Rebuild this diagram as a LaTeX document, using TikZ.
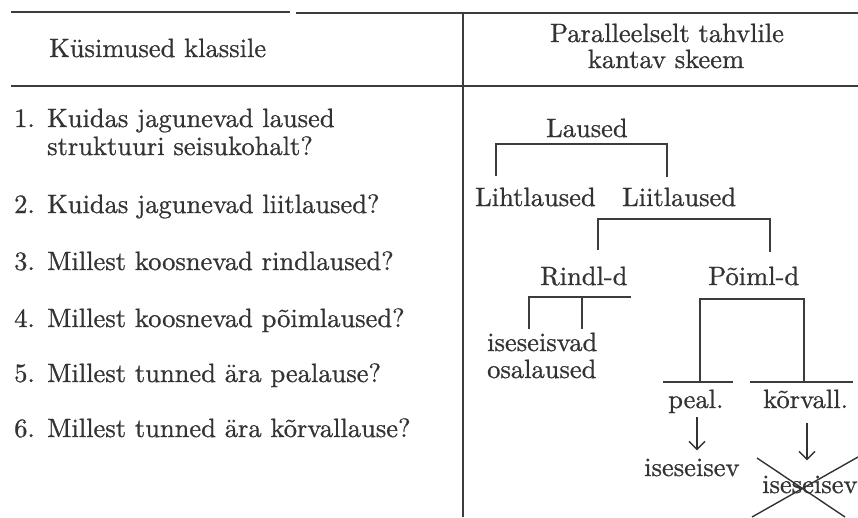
\documentclass[tikz,border=0pt]{standalone}
\usepackage{fontspec}
\setmainfont{lmroman10-regular.otf}[FakeBold=0.8]
\usetikzlibrary{arrows.meta,calc}
\definecolor{ink}{HTML}{333333}
\definecolor{rulecol}{HTML}{3C3C3C}
\begin{document}
\begin{tikzpicture}[x=1pt,y=-1pt,
  txt/.style={inner sep=0pt, anchor=base west, text=ink, font=\fontsize{26.5}{31}\selectfont},
  ctxt/.style={txt, anchor=base},
  rule/.style={draw=rulecol, line width=2pt},
  br/.style={draw=rulecol, line width=2pt, line join=miter},
  arr/.style={draw=ink, line width=1.4pt, -{Straight Barb[length=8pt,width=16pt,line width=1.4pt]}},
  strike/.style={draw=ink, line width=1.4pt}]
\useasboundingbox (0,0) rectangle (858,517);

% table rules
\coordinate (tl) at (11,12);
\coordinate (tm1) at (290,12);
\coordinate (tm2) at (296,13);
\coordinate (tr) at (858,13);
\coordinate (hl) at (11,86);
\coordinate (hr) at (858,86);
\coordinate (vt) at (463,12);
\coordinate (vb) at (463,517);
\draw[rule] (tl) -- (tm1);
\draw[rule] (tm2) -- (tr);
\draw[rule] (hl) -- (hr);
\draw[rule] (vt) -- (vb);

% header
\node[txt]  (h1) at (49,57) {Küsimused klassile};
\node[ctxt] (h2) at (667,42) {Paralleelselt tahvlile};
\node[ctxt] (h3) at (666,68) {kantav skeem};

% questions
\node[txt] (n1) at (14,127) {1.};
\node[txt] (q1) at (47,127) {Kuidas jagunevad laused};
\node[txt] (q1b) at (47,155) {struktuuri seisukohalt?};
\node[txt] (n2) at (14,213) {2.};
\node[txt] (q2) at (47,213) {Kuidas jagunevad liitlaused?};
\node[txt] (n3) at (14,270) {3.};
\node[txt] (q3) at (47,270) {Millest koosnevad rindlaused?};
\node[txt] (n4) at (14,327) {4.};
\node[txt] (q4) at (47,327) {Millest koosnevad põimlaused?};
\node[txt] (n5) at (14,382) {5.};
\node[txt] (q5) at (47,382) {Millest tunned ära pealause?};
\node[txt] (n6) at (14,437) {6.};
\node[txt] (q6) at (47,437) {Millest tunned ära kõrvallause?};

% scheme
\node[txt] (laused) at (546,137) {Laused};
\node[txt] (liht) at (475,206) {Lihtlaused};
\node[txt] (liit) at (622,206) {Liitlaused};
\node[txt] (rindl) at (540,285) {Rindl-d};
\node[txt] (poiml) at (708,285) {Põiml-d};
\node[txt] (isv1) at (487,351) {iseseisvad};
\node[txt] (isv2) at (487,378) {osalaused};
\node[txt] (peal) at (668,408) {peal.};
\node[txt] (korv) at (763,408) {kõrvall.};
\node[txt] (ise1) at (644,476) {iseseisev};
\node[txt] (ise2) at (762,493) {iseseisev};

% brackets
\coordinate (a1) at (496,176);
\coordinate (a2) at (667,177);
\draw[br] (a1) |- ($(laused.south)+(0,7)$) -| (a2);

\coordinate (c1) at (598,250);
\coordinate (c2) at (770,252);
\draw[br] (c1) |- ($(liit.south)+(0,13)$) -| (c2);

\coordinate (r1) at (529,329);
\coordinate (r2) at (582,329);
\coordinate (r3) at (631,297);
\draw[br] (r1) |- (r3);
\draw[br] (r2) -- (r2 |- r3);

\coordinate (p1) at (700,382);
\coordinate (p2) at (804,382);
\draw[br] (p1) |- ($(poiml.south)+(0,14)$) -| (p2);
\coordinate (s1) at (663,382);
\coordinate (s2) at (733,382);
\coordinate (s3) at (750,382);
\coordinate (s4) at (853,382);
\draw[br] (s1) -- (s2);
\draw[br] (s3) -- (s4);

% arrows
\coordinate (ax1) at (697,0);
\coordinate (ax2) at (807,0);
\draw[arr] ($(peal.south -| ax1)+(0,4)$) -- ($(ise1.north -| ax1)+(0,-8)$);
\draw[arr] ($(korv.south -| ax2)+(0,14)$) -- ($(ise2.north -| ax2)+(0,-15)$);

% crossing out
\coordinate (x1) at (757,458);
\coordinate (x2) at (845,517);
\coordinate (x3) at (858,457);
\coordinate (x4) at (752,517);
\draw[strike] (x1) -- (x2);
\draw[strike] (x3) -- (x4);
\end{tikzpicture}
\end{document}
